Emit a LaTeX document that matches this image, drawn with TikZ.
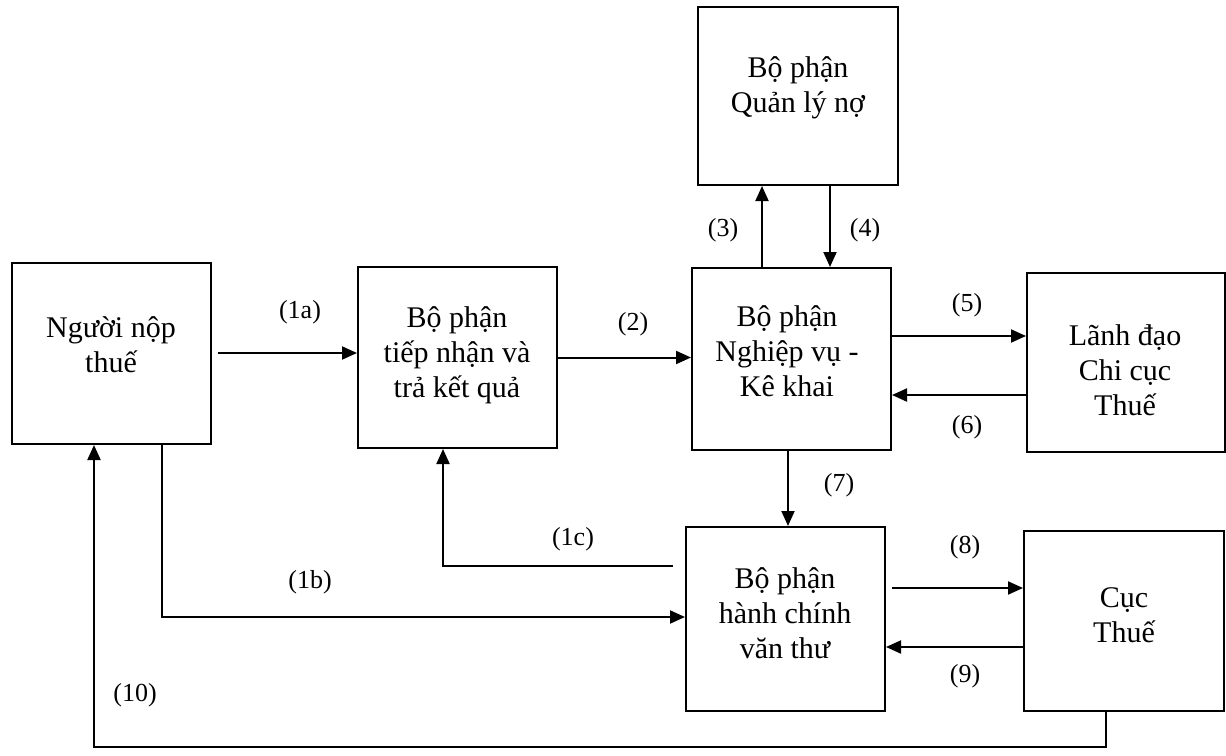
\documentclass[tikz,border=0pt]{standalone}
\usepackage{fontspec}
\setmainfont{Liberation Serif}
\usetikzlibrary{arrows.meta}
\begin{document}
\begin{tikzpicture}[x=0.5pt,y=-0.5pt,
  box/.style={draw, line width=1pt, inner sep=0pt},
  boxtext/.style={align=center, inner sep=0pt, font=\fontsize{15}{17.5}\selectfont},
  arr/.style={line width=1pt, -{Triangle[length=7.5pt,width=6.5pt]}},
  lbl/.style={inner sep=0pt, font=\fontsize{13}{15}\selectfont}]
\useasboundingbox (0,0) rectangle (1226,755);

% boxes
\node[box, minimum width=99.5pt, minimum height=90.5pt] (A) at (111.5,353.5) {};
\node[box, minimum width=99.5pt, minimum height=90.5pt] (B) at (457.5,357.5) {};
\node[box, minimum width=100pt, minimum height=89pt] (C) at (798,96) {};
\node[box, minimum width=99.5pt, minimum height=91pt] (D) at (791.5,359) {};
\node[box, minimum width=99pt, minimum height=89.5pt] (E) at (1126,362.5) {};
\node[box, minimum width=99.5pt, minimum height=92pt] (F) at (785.5,619) {};
\node[box, minimum width=100pt, minimum height=90pt] (G) at (1124,621) {};

% box texts
\node[boxtext] (tA) at (111,345) {Người nộp\\thuế};
\node[boxtext] (tB) at (457,355) {Bộ phận\\tiếp nhận và\\trả kết quả};
\node[boxtext] (tC) at (798,88) {Bộ phận\\Quản lý nợ};
\node[boxtext] (tD) at (787,351) {Bộ phận\\Nghiệp vụ -\\Kê khai};
\node[boxtext] (tE) at (1125,370) {Lãnh đạo\\Chi cục\\Thuế};
\node[boxtext] (tF) at (785,613) {Bộ phận\\hành chính\\văn thư};
\node[boxtext] (tG) at (1124,615) {Cục\\Thuế};

% helper coordinates
\coordinate (s1a) at (218,353);
\coordinate (s1c) at (673,566);
\coordinate (s8) at (892,588);
\coordinate (c10) at (94,747);

% connectors
\draw[arr] (s1a) -- (B.west |- s1a);
\draw[arr] (B.east) -- (B.east -| D.west);
\draw[arr] (D.north -| 762,0) -- (C.south -| 762,0);
\draw[arr] (C.south -| 830,0) -- (D.north -| 830,0);
\draw[arr] (D.east |- 0,336) -- (E.west |- 0,336);
\draw[arr] (E.west |- 0,395) -- (D.east |- 0,395);
\draw[arr] (D.south -| 788,0) -- (F.north -| 788,0);
\draw[arr] (s1c) -| (B.south -| 443,0);
\draw[arr] (A.south -| 162,0) |- (F.west |- 0,617);
\draw[arr] (s8) -- (G.west |- s8);
\draw[arr] (G.west |- 0,647) -- (F.east |- 0,647);
\draw[arr] (G.south -| 1106,0) |- (c10) -- (A.south -| c10);

% labels
\node[lbl] (l1a) at (300,312) {(1a)};
\node[lbl] (l2) at (633,324) {(2)};
\node[lbl] (l3) at (723,230) {(3)};
\node[lbl] (l4) at (865,230) {(4)};
\node[lbl] (l5) at (967,305) {(5)};
\node[lbl] (l6) at (967,427) {(6)};
\node[lbl] (l7) at (839,485) {(7)};
\node[lbl] (l1c) at (573,539) {(1c)};
\node[lbl] (l1b) at (310,582) {(1b)};
\node[lbl] (l8) at (965,547) {(8)};
\node[lbl] (l9) at (965,676) {(9)};
\node[lbl] (l10) at (135,695) {(10)};
\end{tikzpicture}
\end{document}
